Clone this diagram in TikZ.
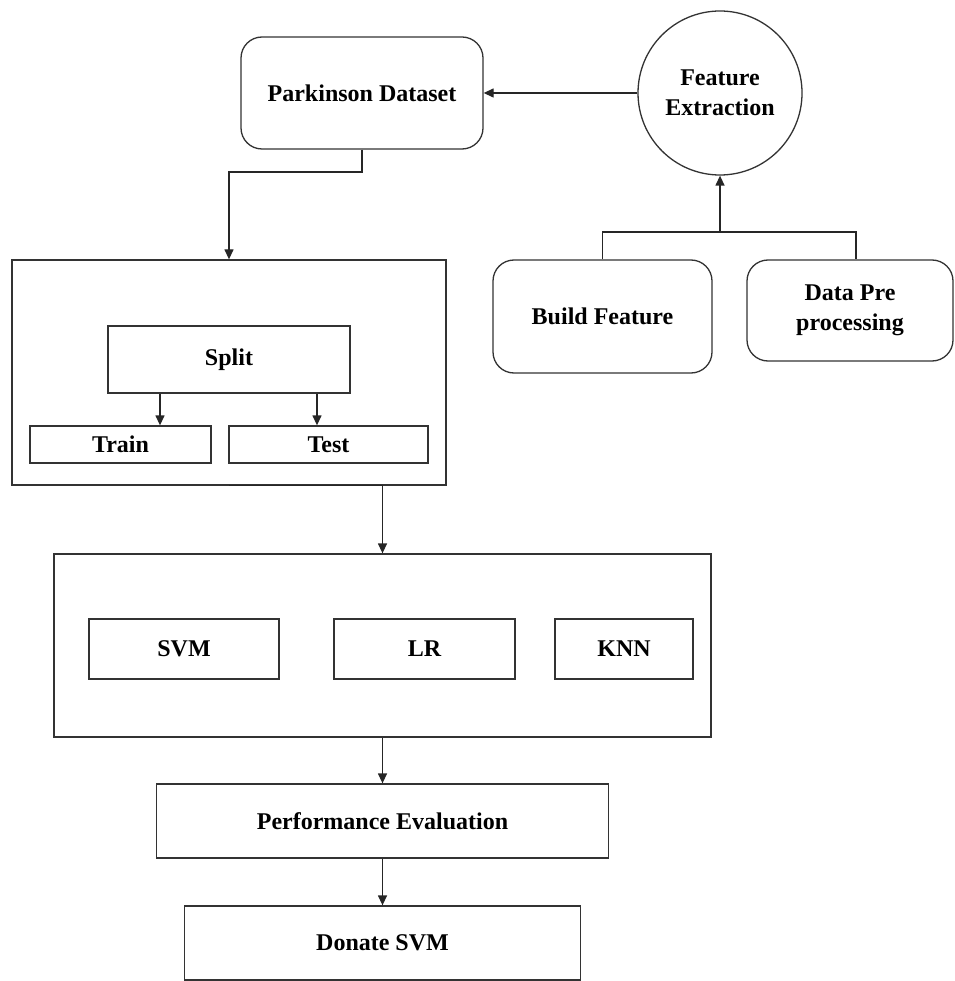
\documentclass[tikz,border=0pt]{standalone}
\usepackage{fontspec}
\setmainfont{Liberation Serif}
\usetikzlibrary{arrows.meta}
\begin{document}
\begin{tikzpicture}[x=1pt,y=-1pt,
  every node/.style={font=\fontsize{24}{30}\selectfont\bfseries, text=black, inner sep=0pt, align=center},
  box/.style={draw=black!80, line width=1.3pt, rectangle},
  rbox/.style={box, rounded corners=21pt},
  circ/.style={draw=black!80, line width=1.3pt, circle, minimum size=164pt},
  conn/.style={draw=black!85, line width=1.3pt},
  arr/.style={conn, -{Triangle[length=10pt,width=9pt]}}
]
\useasboundingbox (0,0) rectangle (954,981);

% top part
\node[rbox, minimum width=242pt, minimum height=112pt] (pd) at (362,93) {Parkinson Dataset};
\node[circ] (fe) at (720,93) {Feature\\Extraction};
\node[rbox, minimum width=219pt, minimum height=113pt] (bf) at (602.5,316.5) {Build Feature};
\node[rbox, minimum width=206pt, minimum height=101pt] (dp) at (850,310.5) {Data Pre\\processing};

% split group
\node[box, minimum width=434pt, minimum height=225pt] (outer) at (229,372.5) {};
\node[box, minimum width=242pt, minimum height=67pt] (split) at (229,359.5) {Split};
\node[box, minimum width=181pt, minimum height=37pt] (train) at (120.5,444.5) {Train};
\node[box, minimum width=199pt, minimum height=37pt] (test) at (328.5,444.5) {Test};

% models group
\node[box, minimum width=657pt, minimum height=183pt] (ml) at (382.5,645.5) {};
\node[box, minimum width=190pt, minimum height=60pt] (svm) at (184,649) {SVM};
\node[box, minimum width=181pt, minimum height=60pt] (lr) at (424.5,649) {LR};
\node[box, minimum width=138pt, minimum height=60pt] (knn) at (624,649) {KNN};

% bottom
\node[box, minimum width=452pt, minimum height=74pt] (perf) at (382.5,821) {Performance Evaluation};
\node[box, minimum width=396pt, minimum height=74pt] (don) at (382.5,943) {Donate SVM};

% connectors
\draw[arr] (fe.west) -- (pd.east);
\coordinate (k1) at (229,172);
\draw[arr] (pd.south) |- (k1) -- (outer.north);
\coordinate (j) at (720,232);
\draw[conn] (bf.north) |- (j) -| ([xshift=6pt]dp.north);
\draw[arr] (j) -- (fe.south);
\draw[arr] ([xshift=-69pt]split.south) -- ([xshift=-69pt]split.south |- train.north);
\draw[arr] ([xshift=88pt]split.south) -- ([xshift=88pt]split.south |- test.north);
\draw[arr] (outer.south) -| (ml.north);
\draw[arr] (ml.south) -- (perf.north);
\draw[arr] (perf.south) -- (don.north);
\end{tikzpicture}
\end{document}
